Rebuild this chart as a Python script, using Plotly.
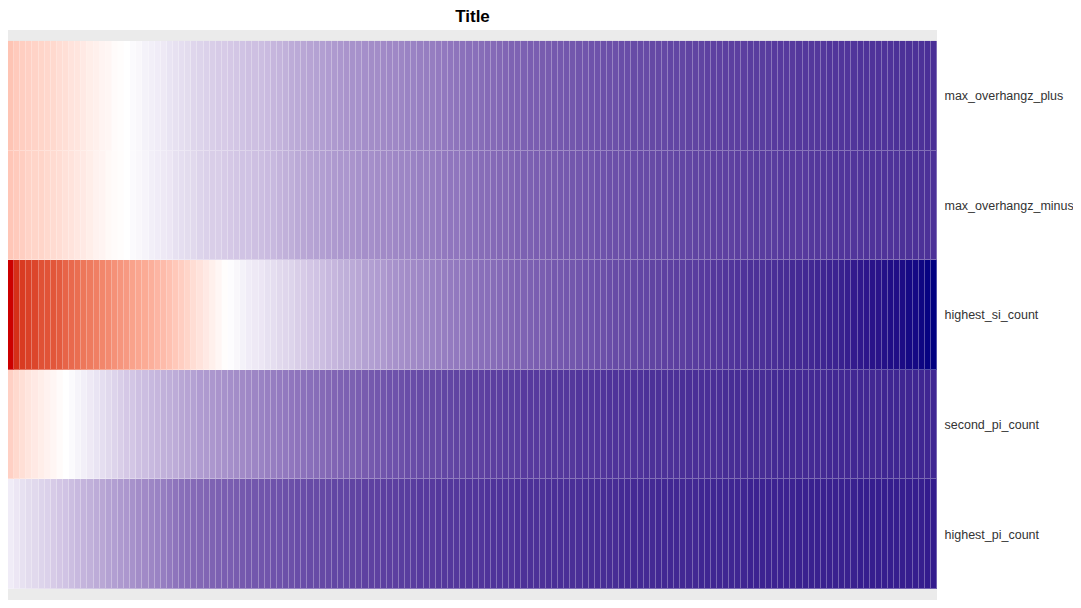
import plotly.graph_objects as go
import numpy as np

# ---------------- data ----------------
row_labels = ["max_overhangz_plus", "max_overhangz_minus", "highest_si_count",
              "second_pi_count", "highest_pi_count"]
n_cols = 152
col_labels = [f"c{i + 1}" for i in range(n_cols)]

max_overhangz_plus = [
    -0.28, -0.25, -0.23, -0.22, -0.21, -0.20, -0.19, -0.18, -0.16, -0.15,
    -0.13, -0.12, -0.10, -0.08, -0.07, -0.05, -0.04, -0.02, -0.01, 0.00,
    0.02, 0.03, 0.05, 0.06, 0.07, 0.08, 0.10, 0.11, 0.12, 0.13,
    0.15, 0.16, 0.17, 0.18, 0.19, 0.19, 0.20, 0.21, 0.22, 0.23,
    0.23, 0.24, 0.25, 0.27, 0.28, 0.29, 0.31, 0.32, 0.33, 0.34,
    0.35, 0.36, 0.37, 0.38, 0.39, 0.40, 0.41, 0.41, 0.42, 0.43,
    0.43, 0.44, 0.45, 0.45, 0.46, 0.47, 0.47, 0.48, 0.49, 0.49,
    0.50, 0.51, 0.52, 0.53, 0.54, 0.55, 0.55, 0.56, 0.57, 0.57,
    0.58, 0.59, 0.60, 0.60, 0.61, 0.62, 0.62, 0.63, 0.63, 0.64,
    0.64, 0.65, 0.65, 0.66, 0.66, 0.67, 0.67, 0.68, 0.68, 0.68,
    0.69, 0.69, 0.70, 0.70, 0.70, 0.71, 0.71, 0.71, 0.72, 0.72,
    0.72, 0.73, 0.73, 0.73, 0.74, 0.74, 0.74, 0.75, 0.75, 0.75,
    0.75, 0.76, 0.76, 0.76, 0.76, 0.77, 0.77, 0.77, 0.77, 0.78,
    0.78, 0.78, 0.78, 0.78, 0.79, 0.79, 0.79, 0.79, 0.79, 0.80,
    0.80, 0.80, 0.80, 0.80, 0.80, 0.81, 0.81, 0.81, 0.81, 0.81, 0.82, 0.82,
]

max_overhangz_minus = [
    -0.27, -0.25, -0.23, -0.21, -0.20, -0.20, -0.18, -0.17, -0.16, -0.14,
    -0.13, -0.11, -0.10, -0.08, -0.06, -0.05, -0.03, -0.02, -0.01, 0.00,
    0.02, 0.03, 0.04, 0.06, 0.07, 0.08, 0.09, 0.11, 0.12, 0.13,
    0.14, 0.16, 0.17, 0.18, 0.18, 0.19, 0.20, 0.21, 0.22, 0.22,
    0.23, 0.24, 0.25, 0.26, 0.28, 0.29, 0.30, 0.32, 0.33, 0.34,
    0.35, 0.36, 0.37, 0.38, 0.39, 0.39, 0.40, 0.41, 0.42, 0.42,
    0.43, 0.44, 0.44, 0.45, 0.46, 0.46, 0.47, 0.48, 0.48, 0.49,
    0.50, 0.51, 0.52, 0.52, 0.53, 0.54, 0.55, 0.56, 0.56, 0.57,
    0.58, 0.58, 0.59, 0.60, 0.61, 0.61, 0.62, 0.62, 0.63, 0.63,
    0.64, 0.64, 0.65, 0.65, 0.66, 0.66, 0.67, 0.67, 0.68, 0.68,
    0.68, 0.69, 0.69, 0.70, 0.70, 0.70, 0.71, 0.71, 0.71, 0.72,
    0.72, 0.72, 0.73, 0.73, 0.73, 0.74, 0.74, 0.74, 0.74, 0.75,
    0.75, 0.75, 0.76, 0.76, 0.76, 0.76, 0.77, 0.77, 0.77, 0.77,
    0.77, 0.78, 0.78, 0.78, 0.78, 0.79, 0.79, 0.79, 0.79, 0.79,
    0.80, 0.80, 0.80, 0.80, 0.80, 0.80, 0.81, 0.81, 0.81, 0.81, 0.81, 0.81,
]

highest_si_count = [
    -1.00, -0.92, -0.88, -0.86, -0.84, -0.80, -0.79, -0.78, -0.76, -0.72,
    -0.70, -0.68, -0.64, -0.62, -0.60, -0.57, -0.55, -0.52, -0.50, -0.48,
    -0.44, -0.42, -0.40, -0.38, -0.35, -0.32, -0.29, -0.26, -0.23, -0.20,
    -0.16, -0.13, -0.10, -0.07, -0.04, -0.01, 0.01, 0.03, 0.05, 0.07,
    0.08, 0.09, 0.11, 0.12, 0.14, 0.15, 0.16, 0.18, 0.19, 0.21,
    0.22, 0.24, 0.26, 0.27, 0.29, 0.30, 0.32, 0.33, 0.35, 0.36,
    0.37, 0.38, 0.40, 0.41, 0.42, 0.43, 0.44, 0.45, 0.46, 0.47,
    0.48, 0.49, 0.50, 0.51, 0.52, 0.53, 0.54, 0.55, 0.55, 0.56,
    0.57, 0.58, 0.59, 0.60, 0.60, 0.61, 0.62, 0.62, 0.63, 0.64,
    0.64, 0.65, 0.65, 0.66, 0.67, 0.67, 0.68, 0.68, 0.69, 0.70,
    0.70, 0.71, 0.71, 0.72, 0.72, 0.73, 0.73, 0.74, 0.74, 0.75,
    0.75, 0.76, 0.76, 0.77, 0.77, 0.78, 0.78, 0.79, 0.79, 0.80,
    0.80, 0.81, 0.81, 0.81, 0.82, 0.82, 0.83, 0.83, 0.84, 0.84,
    0.85, 0.85, 0.86, 0.86, 0.87, 0.87, 0.88, 0.89, 0.90, 0.91,
    0.92, 0.93, 0.93, 0.94, 0.95, 0.95, 0.96, 0.97, 0.97, 0.98, 0.99, 1.00,
]

second_pi_count = [
    -0.22, -0.18, -0.15, -0.12, -0.10, -0.08, -0.06, -0.04, -0.02, 0.00,
    0.02, 0.04, 0.06, 0.08, 0.10, 0.12, 0.14, 0.16, 0.18, 0.20,
    0.21, 0.23, 0.24, 0.26, 0.27, 0.29, 0.30, 0.31, 0.33, 0.34,
    0.35, 0.37, 0.38, 0.39, 0.40, 0.41, 0.42, 0.43, 0.44, 0.45,
    0.46, 0.47, 0.48, 0.49, 0.50, 0.51, 0.52, 0.53, 0.54, 0.55,
    0.56, 0.57, 0.58, 0.59, 0.60, 0.61, 0.61, 0.62, 0.63, 0.64,
    0.65, 0.66, 0.67, 0.67, 0.68, 0.69, 0.69, 0.70, 0.70, 0.71,
    0.71, 0.72, 0.72, 0.73, 0.73, 0.74, 0.74, 0.74, 0.75, 0.75,
    0.75, 0.76, 0.76, 0.76, 0.77, 0.77, 0.77, 0.77, 0.78, 0.78,
    0.78, 0.78, 0.78, 0.79, 0.79, 0.79, 0.79, 0.79, 0.80, 0.80,
    0.80, 0.80, 0.80, 0.80, 0.81, 0.81, 0.81, 0.81, 0.81, 0.81,
    0.82, 0.82, 0.82, 0.82, 0.82, 0.82, 0.82, 0.83, 0.83, 0.83,
    0.83, 0.83, 0.83, 0.83, 0.83, 0.84, 0.84, 0.84, 0.84, 0.84,
    0.84, 0.84, 0.84, 0.84, 0.85, 0.85, 0.85, 0.85, 0.85, 0.85,
    0.85, 0.85, 0.85, 0.86, 0.86, 0.86, 0.86, 0.86, 0.86, 0.86, 0.86, 0.86,
]

highest_pi_count = [
    0.07, 0.09, 0.11, 0.13, 0.14, 0.16, 0.17, 0.19, 0.21, 0.22,
    0.24, 0.26, 0.28, 0.29, 0.31, 0.33, 0.35, 0.36, 0.38, 0.39,
    0.41, 0.43, 0.44, 0.46, 0.47, 0.49, 0.51, 0.53, 0.55, 0.56,
    0.57, 0.58, 0.59, 0.60, 0.61, 0.62, 0.62, 0.63, 0.64, 0.65,
    0.65, 0.66, 0.66, 0.67, 0.67, 0.68, 0.68, 0.69, 0.69, 0.70,
    0.70, 0.71, 0.71, 0.72, 0.72, 0.72, 0.73, 0.73, 0.74, 0.74,
    0.74, 0.75, 0.75, 0.75, 0.76, 0.76, 0.76, 0.77, 0.77, 0.77,
    0.78, 0.78, 0.78, 0.78, 0.79, 0.79, 0.79, 0.79, 0.80, 0.80,
    0.80, 0.80, 0.80, 0.81, 0.81, 0.81, 0.81, 0.81, 0.82, 0.82,
    0.82, 0.82, 0.82, 0.82, 0.83, 0.83, 0.83, 0.83, 0.83, 0.83,
    0.84, 0.84, 0.84, 0.84, 0.84, 0.84, 0.85, 0.85, 0.85, 0.85,
    0.85, 0.85, 0.85, 0.86, 0.86, 0.86, 0.86, 0.86, 0.86, 0.86,
    0.86, 0.87, 0.87, 0.87, 0.87, 0.87, 0.87, 0.87, 0.87, 0.88,
    0.88, 0.88, 0.88, 0.88, 0.88, 0.88, 0.88, 0.88, 0.88, 0.89,
    0.89, 0.89, 0.89, 0.89, 0.89, 0.89, 0.89, 0.89, 0.89, 0.89, 0.90, 0.90,
]

z = [max_overhangz_plus, max_overhangz_minus, highest_si_count,
     second_pi_count, highest_pi_count]

# ---------------- colour scale (Lab interpolation, like ggplot) ----------------
LOW, MID, HIGH = (204, 0, 0), (255, 255, 255), (0, 0, 128)
WHITE_REF = np.array([0.95047, 1.0, 1.08883])
M = np.array([[0.4124, 0.3576, 0.1805], [0.2126, 0.7152, 0.0722], [0.0193, 0.1192, 0.9505]])
MI = np.linalg.inv(M)


def to_lab(rgb):
    c = np.array(rgb) / 255.0
    c = np.where(c > 0.04045, ((c + 0.055) / 1.055) ** 2.4, c / 12.92)
    xyz = M @ c / WHITE_REF
    f = np.where(xyz > 0.008856, np.cbrt(xyz), 7.787 * xyz + 16 / 116)
    return np.array([116 * f[1] - 16, 500 * (f[0] - f[1]), 200 * (f[1] - f[2])])


def from_lab(lab):
    L, a, b = lab
    fy = (L + 16) / 116
    f = np.array([fy + a / 500, fy, fy - b / 200])
    xyz = np.where(f ** 3 > 0.008856, f ** 3, (f - 16 / 116) / 7.787) * WHITE_REF
    c = MI @ xyz
    c = np.clip(c, 0, 1)
    c = np.where(c > 0.0031308, 1.055 * c ** (1 / 2.4) - 0.055, 12.92 * c)
    return np.clip(np.round(c * 255), 0, 255)


def build_scale(lighten=0.0, n=25):
    lo, mi, hi = to_lab(LOW), to_lab(MID), to_lab(HIGH)
    stops = []
    for k in range(n):
        t = k / (n - 1)
        stops.append((0.5 * t, from_lab(lo + (mi - lo) * t)))
    for k in range(1, n):
        t = k / (n - 1)
        stops.append((0.5 + 0.5 * t, from_lab(mi + (hi - mi) * t)))
    out = []
    for p, c in stops:
        c = c + (255 - c) * lighten
        out.append([p, f"rgb({int(c[0])},{int(c[1])},{int(c[2])})"])
    return out


scale = build_scale()
scale_light = build_scale(lighten=0.3)

fig = go.Figure()
# lighter layer underneath: shows through the gaps as thin light separators
fig.add_trace(go.Heatmap(z=z, x=col_labels, y=row_labels, colorscale=scale_light,
                         zmin=-1, zmax=1, showscale=False, hoverinfo="skip"))
fig.add_trace(go.Heatmap(z=z, x=col_labels, y=row_labels, colorscale=scale,
                         zmin=-1, zmax=1, showscale=False, xgap=1, ygap=1))

fig.update_layout(
    width=1081, height=608,
    margin=dict(l=0, r=152, t=22, b=16),
    paper_bgcolor="white", plot_bgcolor="#EBEBEB",
    font=dict(family="Liberation Sans, Arial, sans-serif", color="#333333", size=12),
    title=dict(text="<b>Title</b>", x=0.5, xref="paper", xanchor="center",
               y=1 - 8 / 608, yref="container", yanchor="middle",
               font=dict(size=17, color="black")),
    xaxis=dict(showticklabels=False, showgrid=False, zeroline=False, ticks="",
               range=[-0.5, n_cols - 0.5]),
    yaxis=dict(side="right", showgrid=False, zeroline=False, ticks="outside",
               ticklen=4, tickcolor="rgba(0,0,0,0)",
               categoryorder="array", categoryarray=row_labels,
               range=[4.6, -0.6], tickfont=dict(size=12.5, color="#333333")),
)

fig.write_html("out.html")
